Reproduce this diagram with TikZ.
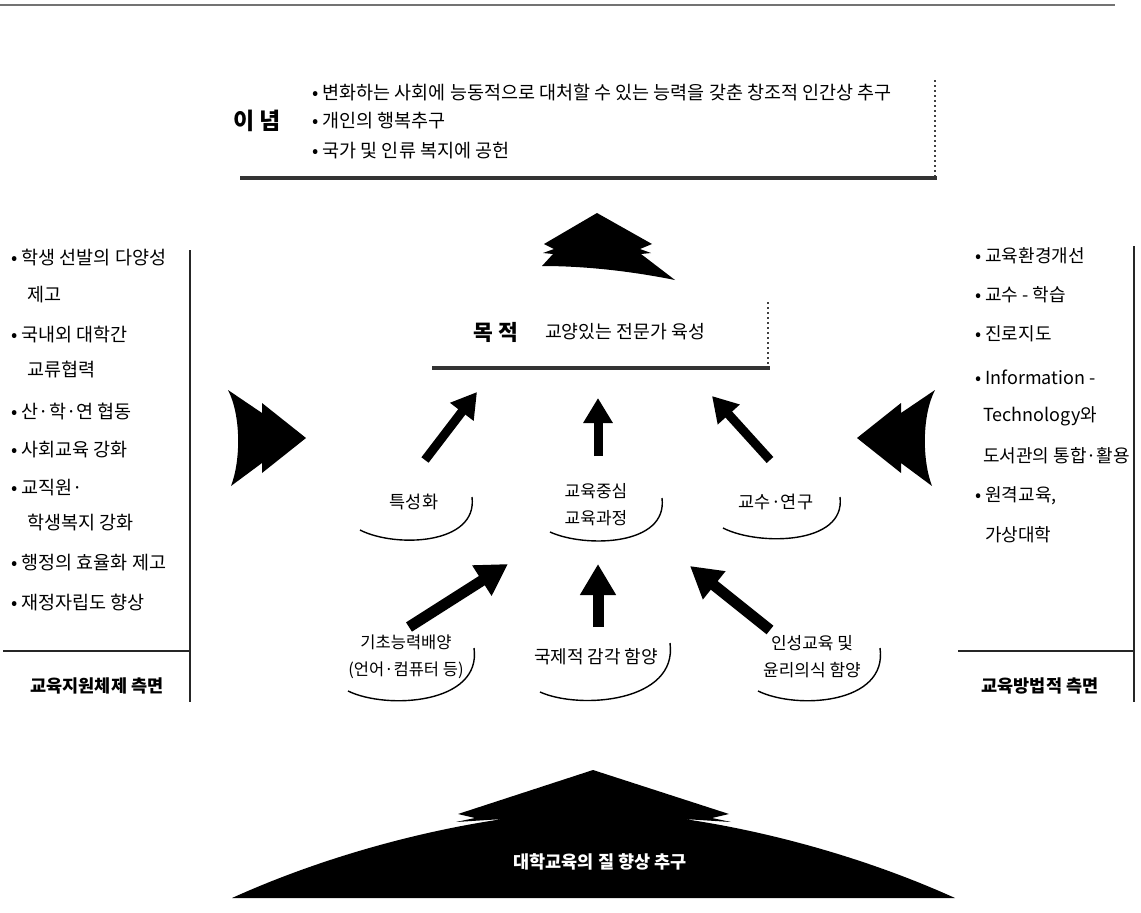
\documentclass[tikz,border=0pt]{standalone}
\usepackage{fontspec}
\setmainfont{Noto Sans CJK KR}
\usetikzlibrary{arrows.meta}
\begin{document}
\begin{tikzpicture}[x=1pt,y=-1pt,
  txt/.style={font=\fontsize{18.5}{20}\selectfont, inner sep=0pt, anchor=west},
  rtxt/.style={font=\fontsize{18}{20}\selectfont, inner sep=0pt, anchor=west},
  lbl/.style={font=\fontsize{17.5}{27}\selectfont, align=center, inner sep=0pt},
  side/.style={font=\fontsize{17.5}{20}\selectfont\bfseries, inner sep=0pt},
  frame/.style={line width=1.4pt, black!85},
  thickrule/.style={line width=4pt, black!80},
  dotrule/.style={line width=1.1pt, black!75, dash pattern=on 2pt off 3pt},
  arcline/.style={line width=1.4pt},
  upar/.style={line width=9pt, -{Triangle[length=25pt,width=28pt]}},
  loar/.style={line width=11pt, -{Triangle[length=31pt,width=34pt]}},
]
\useasboundingbox (0,0) rectangle (1141,913);

% top rule
\draw[black!55, line width=1.2pt] (0,5) -- (1115,5);

% ===== 이념 box =====
\node[font=\fontsize{23}{25}\selectfont\bfseries, inner sep=0pt] (inyeom) at (257,121) {이 념};
\node[txt] (i1) at (312,92) {• 변화하는 사회에 능동적으로 대처할 수 있는 능력을 갖춘 창조적 인간상 추구};
\node[txt] (i2) at (312,121) {• 개인의 행복추구};
\node[txt] (i3) at (312,151) {• 국가 및 인류 복지에 공헌};
\draw[dotrule] (935,80) -- (935,176);
\draw[thickrule] (240,178) -- (937,178);

% ===== top tree arrow =====
\fill (597,213) -- (652,244) -- (640,249) -- (651,253) -- (641,254) -- (675,280)
  .. controls (630,271) and (585,266) .. (542,266) -- (553,254) -- (543,253) -- (554,249) -- (544,244) -- cycle;

% ===== 목적 box =====
\node[font=\fontsize{21.5}{23}\selectfont\bfseries, inner sep=0pt] (mokjeok) at (496,332) {목 적};
\node[font=\fontsize{18.3}{20}\selectfont, inner sep=0pt] (mokjeoktxt) at (625,332) {교양있는 전문가 육성};
\draw[dotrule] (768,302) -- (768,366);
\draw[thickrule] (432,368) -- (770,368);

% ===== left column =====
\node[txt] (l1) at (11,258) {• 학생 선발의 다양성};
\node[txt] (l1b) at (27,295) {제고};
\node[txt] (l2) at (11,335) {• 국내외 대학간};
\node[txt] (l2b) at (27,370) {교류협력};
\node[txt] (l3) at (11,411) {• 산·학·연 협동};
\node[txt] (l4) at (11,450) {• 사회교육 강화};
\node[txt] (l5) at (11,488) {• 교직원·};
\node[txt] (l5b) at (27,523) {학생복지 강화};
\node[txt] (l6) at (11,563) {• 행정의 효율화 제고};
\node[txt] (l7) at (11,602) {• 재정자립도 향상};
\draw[frame] (190,250) -- (190,702);
\draw[frame] (3,651) -- (190,651);
\node[side] (leftlabel) at (97,686) {교육지원체제 측면};

% ===== right column =====
\node[rtxt] (r1) at (975,256) {• 교육환경개선};
\node[rtxt] (r2) at (975,295) {• 교수 - 학습};
\node[rtxt] (r3) at (975,334) {• 진로지도};
\node[rtxt] (r4) at (975,377) {• Information -};
\node[rtxt] (r4b) at (983,416) {Technology와};
\node[rtxt] (r4c) at (983,456) {도서관의 통합·활용};
\node[rtxt] (r5) at (975,496) {• 원격교육,};
\node[rtxt] (r5b) at (985,535) {가상대학};
\draw[frame] (1134,246) -- (1134,702);
\draw[frame] (958,651) -- (1134,651);
\node[side] (rightlabel) at (1040,686) {교육방법적 측면};

% ===== side chevrons =====
\fill (228,390) -- (262,413) -- (262,403) -- (306,438) -- (262,473) -- (262,463) -- (231,486)
  .. controls (241,460) and (241,415) .. (228,390) -- cycle;
\fill (935,390) -- (901,413) -- (901,403) -- (857,438) -- (901,473) -- (901,463) -- (932,486)
  .. controls (922,460) and (922,415) .. (935,390) -- cycle;

% ===== middle row labels =====
\node[lbl] (tuk) at (414,502) {특성화};
\node[lbl, font=\fontsize{17}{27}\selectfont] (gyo) at (596,505) {교육중심\\교육과정};
\node[lbl] (gys) at (776,502) {교수·연구};
\draw[arcline] (360,530) .. controls (395,548) and (478,545) .. (472,497);
\draw[arcline] (550,532) .. controls (585,548) and (668,546) .. (662,498);
\draw[arcline] (723,528) .. controls (758,546) and (846,545) .. (840,497);

% ===== bottom row labels =====
\node[lbl, font=\fontsize{16.5}{27}\selectfont] (gicho) at (406,657) {기초능력배양\\(언어·컴퓨터 등)};
\node[lbl, font=\fontsize{18}{27}\selectfont] (gukje) at (596,657) {국제적 감각 함양};
\node[lbl, font=\fontsize{17}{27}\selectfont] (inseong) at (812,657) {인성교육 및\\윤리의식 함양};
\draw[arcline] (348,691) .. controls (387,710) and (482,704) .. (474,648);
\draw[arcline] (540,692) .. controls (580,710) and (678,702) .. (670,643);
\draw[arcline] (758,691) .. controls (797,710) and (888,704) .. (880,648);

% ===== upper arrows =====
\coordinate (u1s) at (425,460); \coordinate (u1e) at (477,392);
\coordinate (u2s) at (598,456); \coordinate (u2e) at (598,398);
\coordinate (u3s) at (770,460); \coordinate (u3e) at (712,396);
\draw[upar] (u1s) -- (u1e);
\draw[upar] (u2s) -- (u2e);
\draw[upar] (u3s) -- (u3e);

% ===== lower arrows =====
\coordinate (d1s) at (409,627); \coordinate (d1e) at (508,564);
\coordinate (d2s) at (598,627); \coordinate (d2e) at (598,564);
\coordinate (d3s) at (770,630); \coordinate (d3e) at (690,566);
\draw[loar] (d1s) -- (d1e);
\draw[loar] (d2s) -- (d2e);
\draw[loar] (d3s) -- (d3e);

% ===== bottom big arrow =====
\fill (593,770) -- (729,814) -- (712,818) -- (731,822) -- (684,819)
  .. controls (760,830) and (860,855) .. (955,898) -- (232,898)
  .. controls (327,855) and (427,830) .. (503,819) -- (456,822) -- (475,818) -- (458,814) -- cycle;
\node[font=\fontsize{17.5}{20}\selectfont\bfseries, text=white, inner sep=0pt] (goal) at (600,862) {대학교육의 질 향상 추구};
\end{tikzpicture}
\end{document}
